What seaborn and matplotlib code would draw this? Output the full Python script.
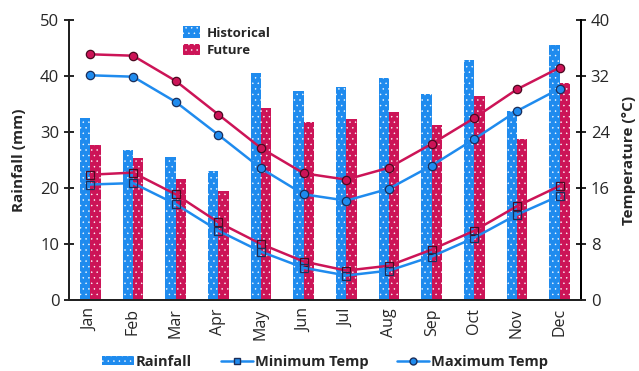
import matplotlib
matplotlib.use("Agg")
import matplotlib.pyplot as plt
import seaborn as sns
import pandas as pd
import numpy as np
from matplotlib.lines import Line2D
from matplotlib.patches import Patch

months = ["Jan", "Feb", "Mar", "Apr", "May", "Jun", "Jul", "Aug", "Sep", "Oct", "Nov", "Dec"]
rain_hist = [32.5, 26.8, 25.5, 23.0, 40.5, 37.3, 38.1, 39.6, 36.7, 42.9, 33.8, 45.6]
rain_fut = [27.6, 25.4, 21.6, 19.5, 34.3, 31.7, 32.3, 33.6, 31.2, 36.4, 28.8, 38.8]
tmax_hist = [32.1, 31.9, 28.3, 23.6, 18.8, 15.1, 14.2, 15.9, 19.2, 23.0, 27.0, 30.2]
tmax_fut = [35.1, 34.9, 31.3, 26.5, 21.7, 18.1, 17.2, 18.9, 22.3, 26.0, 30.1, 33.2]
tmin_hist = [16.5, 16.7, 13.7, 9.9, 6.9, 4.6, 3.5, 4.2, 6.2, 8.9, 12.2, 14.9]
tmin_fut = [17.9, 18.2, 15.1, 11.1, 8.0, 5.5, 4.2, 4.9, 7.2, 9.9, 13.4, 16.3]

BLUE = "#1F8BEE"
RED = "#CC1457"
DARK_B = "#1B2E5A"
DARK_R = "#4A0A20"

sns.set_theme(style="white")
plt.rcParams["font.family"] = ["Open Sans", "DejaVu Sans"]
plt.rcParams["hatch.color"] = "#C8DDF5"
plt.rcParams["hatch.linewidth"] = 0.3

df = pd.DataFrame({
    "Month": months * 2,
    "Rainfall": rain_hist + rain_fut,
    "Period": ["Historical"] * 12 + ["Future"] * 12,
})

fig = plt.figure(figsize=(6.39, 3.71), dpi=100)
ax = fig.add_axes([69 / 639, 1 - 300 / 371, 512 / 639, 280 / 371])
sns.barplot(data=df, x="Month", y="Rainfall", hue="Period", order=months,
            hue_order=["Historical", "Future"], palette=[BLUE, RED],
            width=0.48, saturation=1, ax=ax, legend=False, linewidth=0)
for p in ax.patches:
    p.set_hatch("...")
ax.set_xlim(-0.5, 11.5)
ax.set_ylim(0, 50)
ax.set_yticks([0, 10, 20, 30, 40, 50])
ax.set_xticks(range(12))
ax.set_xticklabels(months, rotation=90)
ax.set_xticks(np.arange(-0.5, 12, 1), minor=True)
ax.tick_params(axis="x", which="major", length=0, pad=6, labelsize=11.5)
ax.tick_params(axis="x", which="minor", length=7, width=1.2, direction="inout", color="black")
ax.tick_params(axis="y", length=7, width=1.2, direction="inout", color="black", labelsize=12, left=True)
ax.set_xlabel("")
ax.set_ylabel("Rainfall (mm)", fontsize=11, fontweight="bold", labelpad=10)
ax.spines["top"].set_visible(False)
for s in ["left", "right", "bottom"]:
    ax.spines[s].set_color("black")
    ax.spines[s].set_linewidth(1.4)

ax2 = ax.twinx()
x = np.arange(12)
sns.lineplot(x=x, y=tmax_fut, ax=ax2, color=RED, lw=1.8, marker="o", markersize=6,
             markerfacecolor=RED, markeredgecolor=DARK_R, markeredgewidth=0.9)
sns.lineplot(x=x, y=tmax_hist, ax=ax2, color=BLUE, lw=1.8, marker="o", markersize=6,
             markerfacecolor=BLUE, markeredgecolor=DARK_B, markeredgewidth=0.9)
sns.lineplot(x=x, y=tmin_fut, ax=ax2, color=RED, lw=1.8, marker="s", markersize=6,
             markerfacecolor="none", markeredgecolor=DARK_R, markeredgewidth=0.9)
sns.lineplot(x=x, y=tmin_hist, ax=ax2, color=BLUE, lw=1.8, marker="s", markersize=6,
             markerfacecolor="none", markeredgecolor=DARK_B, markeredgewidth=0.9)
ax2.set_ylim(0, 40)
ax2.set_yticks([0, 8, 16, 24, 32, 40])
ax2.tick_params(axis="y", length=7, width=1.2, direction="inout", color="black", labelsize=12, right=True)
ax2.set_ylabel("Temperature (°C)", fontsize=11, fontweight="bold", labelpad=9)
ax2.spines["top"].set_visible(False)
ax2.spines["right"].set_color("black")
ax2.spines["right"].set_linewidth(1.4)
ax2.grid(False)
ax.grid(False)

top_handles = [Patch(facecolor=BLUE, hatch="...", linewidth=0, label="Historical"),
               Patch(facecolor=RED, hatch="...", linewidth=0, label="Future")]
ax2.legend(handles=top_handles, loc="upper left", bbox_to_anchor=(0.2, 1.02), frameon=False,
           prop={"weight": "bold", "size": 9.5}, handlelength=1.3, handleheight=1.0,
           labelspacing=0.3, handletextpad=0.5)

bot_handles = [Patch(facecolor=BLUE, hatch="...", linewidth=0, label="Rainfall"),
               Line2D([], [], color=BLUE, lw=1.8, marker="s", markersize=5,
                      markerfacecolor=BLUE, markeredgecolor=DARK_B, label="Minimum Temp"),
               Line2D([], [], color=BLUE, lw=1.8, marker="o", markersize=5,
                      markerfacecolor=BLUE, markeredgecolor=DARK_B, label="Maximum Temp")]
fig.legend(handles=bot_handles, loc="center", bbox_to_anchor=(325 / 639, 1 - 362 / 371), ncol=3,
           frameon=False, prop={"weight": "bold", "size": 10.5}, handlelength=2.2,
           handleheight=0.6, handletextpad=0.1, columnspacing=2.0)

fig.savefig("out.png", dpi=100)
